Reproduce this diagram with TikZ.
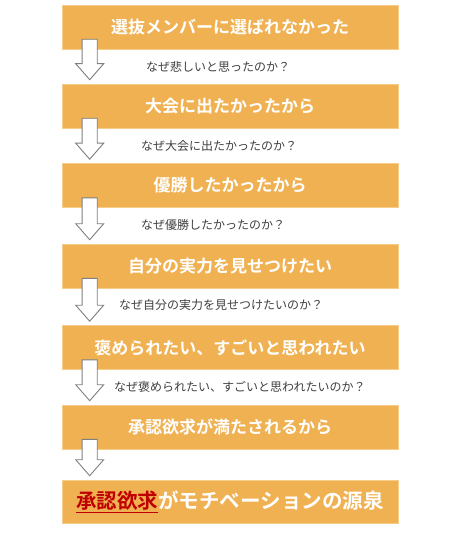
\documentclass[tikz,border=0pt]{standalone}
\usepackage{fontspec}
\usetikzlibrary{calc}
\newfontfamily\jp{Noto Sans CJK JP}
\newfontfamily\jpb{Noto Sans CJK JP Bold}
\definecolor{boxfill}{HTML}{F0B152}
\definecolor{boxedge}{HTML}{F6CC8C}
\definecolor{qtext}{HTML}{404040}
\definecolor{accent}{HTML}{C00000}
\definecolor{arrowedge}{HTML}{7F7F7F}
\begin{document}
\begin{tikzpicture}[x=1bp,y=-1bp,
  stepbox/.style={rectangle,fill=boxfill,draw=boxedge,line width=0.6bp,
    minimum width=336bp,minimum height=44bp,inner sep=0pt,
    text=white,font=\jpb\fontsize{17bp}{20bp}\selectfont},
  question/.style={anchor=west,inner sep=0pt,text=qtext,
    font=\jp\fontsize{12bp}{14bp}\selectfont},
  blockarrow/.style={fill=white,draw=arrowedge,line width=0.9bp,line join=miter}]
\useasboundingbox (0,0) rectangle (467,533);
\fill[white] (0,0) rectangle (467,533);
% boxes
\node[stepbox] (b1) at (230,27) {選抜メンバーに選ばれなかった};
\node[stepbox] (b2) at (230,106) {大会に出たかったから};
\node[stepbox] (b3) at (230,185.5) {優勝したかったから};
\node[stepbox] (b4) at (230,266) {自分の実力を見せつけたい};
\node[stepbox] (b5) at (230,347.5) {褒められたい、すごいと思われたい};
\node[stepbox] (b6) at (230,427) {承認欲求が満たされるから};
\node[stepbox,minimum height=43bp,font=\jpb\fontsize{20.5bp}{23bp}\selectfont] (b7) at (230,501.5)
  {\textcolor{accent}{\underline{承認欲求}}がモチベーションの源泉};
% questions
\node[question] (q1) at (146,67) {なぜ悲しいと思ったのか？};
\node[question] (q2) at (141,146) {なぜ大会に出たかったのか？};
\node[question] (q3) at (141,225) {なぜ優勝したかったのか？};
\node[question] (q4) at (119,305) {なぜ自分の実力を見せつけたいのか？};
\node[question] (q5) at (114,387) {なぜ褒められたい、すごいと思われたいのか？};
% block arrows from box to box
\newcommand{\blkarrow}[3]{% #1 upper box, #2 lower box, #3 head height
  \path (#1.south west) ++(28,-10) coordinate (#1top)
        (#2.north west) ++(28,-4) coordinate (#2tip);
  \draw[blockarrow] ($(#1top)+(-7.5,0)$) -- ($(#1top)+(7.5,0)$) |- ($(#2tip)+(7.5,-#3)$)
    -- ++(6.5,0) -- (#2tip) -- ($(#2tip)+(-14,-#3)$) -- ++(6.5,0) -- cycle;}
\blkarrow{b1}{b2}{16}
\blkarrow{b2}{b3}{16}
\blkarrow{b3}{b4}{16}
\blkarrow{b4}{b5}{16}
\blkarrow{b5}{b6}{16}
\blkarrow{b6}{b7}{16}
\end{tikzpicture}
\end{document}
